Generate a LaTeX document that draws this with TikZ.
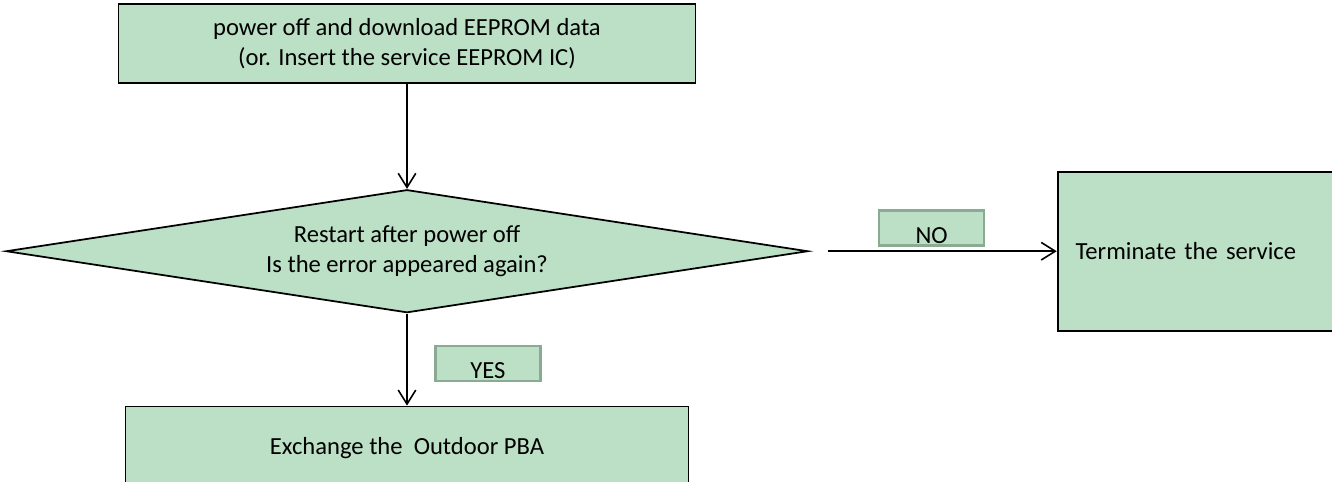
\documentclass[tikz,border=0pt]{standalone}
\usepackage{fontspec}
\setmainfont{Carlito}
\usetikzlibrary{shapes.geometric, arrows.meta, positioning}
\definecolor{boxgreen}{RGB}{187,224,197}
\definecolor{flagedge}{RGB}{138,170,146}

\begin{document}
\begin{tikzpicture}[
    x=0.02cm, y=-0.02cm,
    every node/.style={font=\fontsize{14pt}{17pt}\selectfont},
    block/.style={rectangle, draw, line width=1pt, fill=boxgreen, align=center, inner sep=0pt},
    decision/.style={diamond, draw, line width=1pt, fill=boxgreen, align=center, inner sep=0pt, aspect=6.5},
    flag/.style={rectangle, draw=flagedge, line width=1.5pt, fill=boxgreen, minimum width=2.1cm, text height=0.66cm, text depth=0.04cm, inner ysep=0pt},
    arrow/.style={-{Straight Barb[length=8pt, width=10pt]}, line width=0.9pt},
]
\useasboundingbox (0,0) rectangle (1332,481);

% === Main flow ===
\node[block, minimum width=11.54cm, minimum height=1.58cm] (prep) at (407,43.5) {power off and download EEPROM data\\(or. Insert the service EEPROM IC)};

\node[decision, minimum width=16.04cm, minimum height=2.46cm, below=2.1cm of prep] (check) {Restart after power off\\Is the error appeared again?};

\node[block, minimum width=11.26cm, minimum height=1.68cm, below=1.84cm of check] (swap) {Exchange the\ \ Outdoor PBA};

\node[block, minimum height=3.18cm, text width=4.8cm, inner xsep=0.36cm, align=left, right=4.96cm of check] (term) {Terminate the service};

% === Connectors ===
\draw[arrow] (prep) -- (check);
\draw[arrow] (check) -- (swap);
\draw[arrow] ([xshift=0.38cm]check.east) -- (term);

% === Answers ===
\node[flag, above right=0.09cm and 1.38cm of check.east] (no) {NO};
\node[flag, below right=0.62cm and 0.54cm of check.south] (yes) {YES};

\end{tikzpicture}
\end{document}
